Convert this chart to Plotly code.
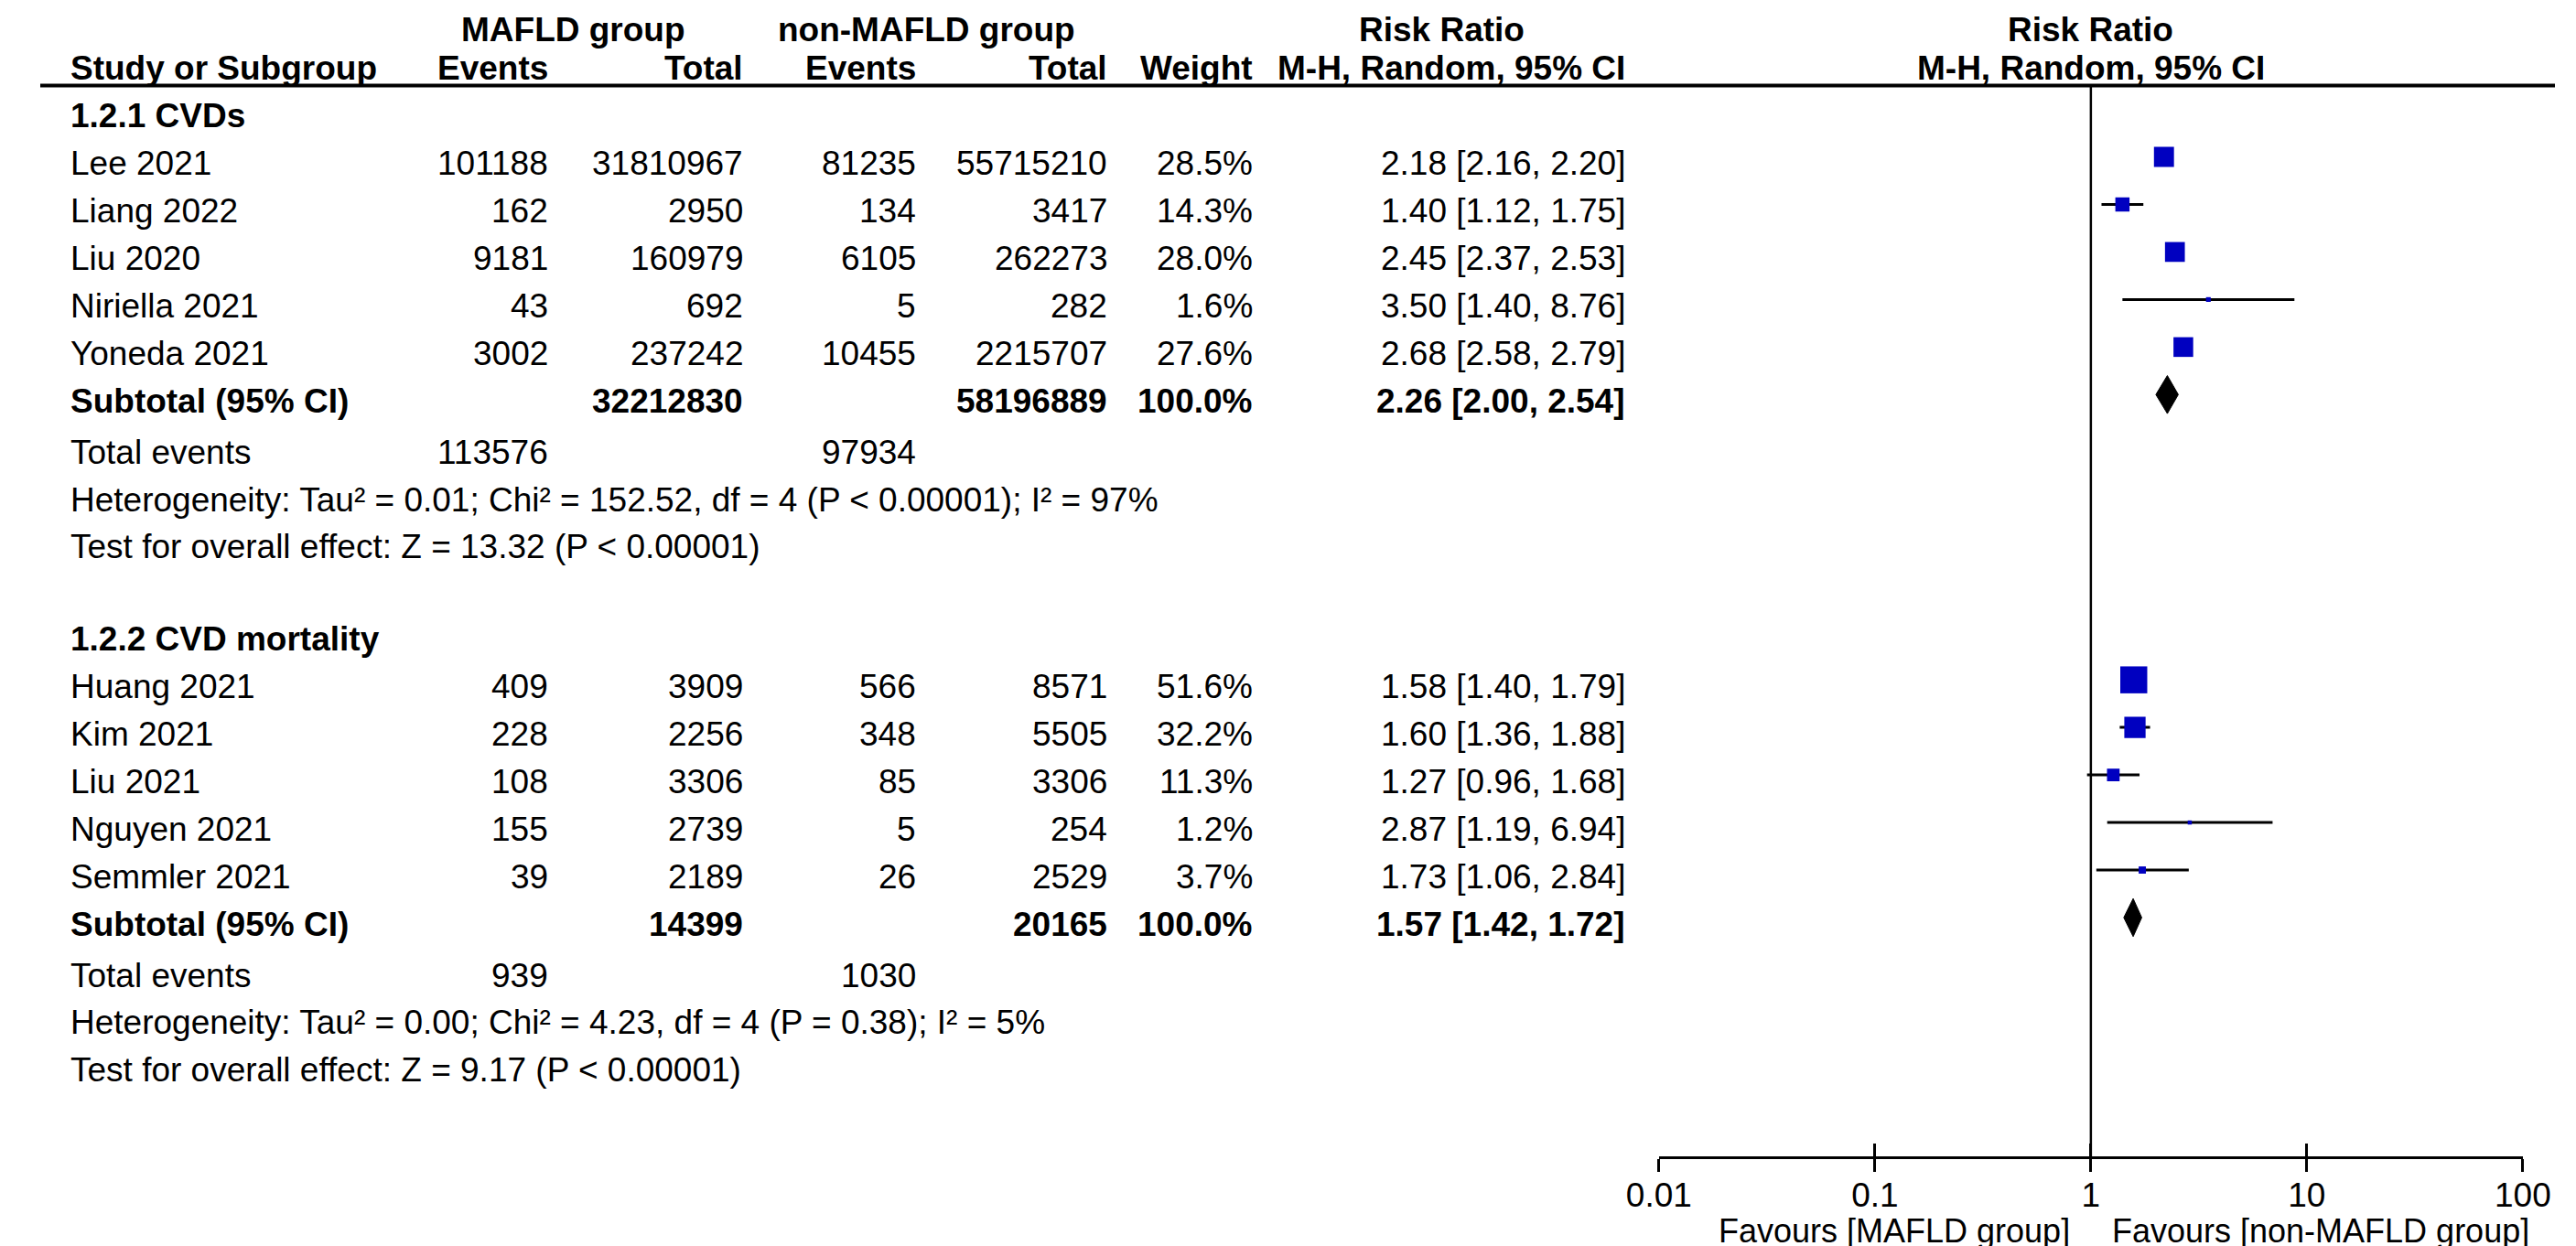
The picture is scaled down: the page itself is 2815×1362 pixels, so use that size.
import math
import plotly.graph_objects as go

FONT = "Liberation Sans, Arial, sans-serif"
FS = 37
BLUE = "#0000c0"

# 1.2.1 CVDs
g1_study = ["Lee 2021", "Liang 2022", "Liu 2020", "Niriella 2021", "Yoneda 2021"]
g1_ev_mafld = [101188, 162, 9181, 43, 3002]
g1_tot_mafld = [31810967, 2950, 160979, 692, 237242]
g1_ev_non = [81235, 134, 6105, 5, 10455]
g1_tot_non = [55715210, 3417, 262273, 282, 2215707]
g1_weight = [28.5, 14.3, 28.0, 1.6, 27.6]
g1_rr = [2.18, 1.40, 2.45, 3.50, 2.68]
g1_lo = [2.16, 1.12, 2.37, 1.40, 2.58]
g1_hi = [2.20, 1.75, 2.53, 8.76, 2.79]
g1_sub = [32212830, 58196889, 2.26, 2.00, 2.54]
g1_events = [113576, 97934]
g1_het = "Heterogeneity: Tau² = 0.01; Chi² = 152.52, df = 4 (P < 0.00001); I² = 97%"
g1_test = "Test for overall effect: Z = 13.32 (P < 0.00001)"

# 1.2.2 CVD mortality
g2_study = ["Huang 2021", "Kim 2021", "Liu 2021", "Nguyen 2021", "Semmler 2021"]
g2_ev_mafld = [409, 228, 108, 155, 39]
g2_tot_mafld = [3909, 2256, 3306, 2739, 2189]
g2_ev_non = [566, 348, 85, 5, 26]
g2_tot_non = [8571, 5505, 3306, 254, 2529]
g2_weight = [51.6, 32.2, 11.3, 1.2, 3.7]
g2_rr = [1.58, 1.60, 1.27, 2.87, 1.73]
g2_lo = [1.40, 1.36, 0.96, 1.19, 1.06]
g2_hi = [1.79, 1.88, 1.68, 6.94, 2.84]
g2_sub = [14399, 20165, 1.57, 1.42, 1.72]
g2_events = [939, 1030]
g2_het = "Heterogeneity: Tau² = 0.00; Chi² = 4.23, df = 4 (P = 0.38); I² = 5%"
g2_test = "Test for overall effect: Z = 9.17 (P < 0.00001)"

tick_vals = [0.01, 0.1, 1, 10, 100]
tick_text = ["0.01", "0.1", "1", "10", "100"]

groups = [
    ("1.2.1 CVDs", g1_study, g1_ev_mafld, g1_tot_mafld, g1_ev_non, g1_tot_non,
     g1_weight, g1_rr, g1_lo, g1_hi, g1_sub, g1_events, g1_het, g1_test),
    ("1.2.2 CVD mortality", g2_study, g2_ev_mafld, g2_tot_mafld, g2_ev_non, g2_tot_non,
     g2_weight, g2_rr, g2_lo, g2_hi, g2_sub, g2_events, g2_het, g2_test),
]

# column anchors (paper x)
X_STUDY = 0.0114
X_EV1 = 0.2028
X_TOT1 = 0.2803
X_EV2 = 0.3489
X_TOT2 = 0.4252
X_W = 0.4828
X_CI = 0.6309
TXT_DY = 0.14  # table text sits a little below the marker row

ann = []


def txt(x, y, s, anchor="right", bold=False, xref="paper", yref="y", size=FS):
    if bold:
        s = "<b>" + s + "</b>"
    ann.append(dict(x=x, y=y, xref=xref, yref=yref, text=s, showarrow=False,
                    xanchor=anchor, yanchor="middle",
                    font=dict(family=FONT, size=size, color="black")))


# headers
TOP = -1.67
txt(0.2121, TOP, "MAFLD group", "center", True)
txt(0.3524, TOP, "non-MAFLD group", "center", True)
txt(0.5574, TOP, "Risk Ratio", "center", True)
txt(0, TOP, "Risk Ratio", "center", True, xref="x")
txt(X_STUDY, -0.87, "Study or Subgroup", "left", True)
txt(X_EV1, -0.87, "Events", "right", True)
txt(X_TOT1, -0.87, "Total", "right", True)
txt(X_EV2, -0.87, "Events", "right", True)
txt(X_TOT2, -0.87, "Total", "right", True)
txt(X_W, -0.87, "Weight", "right", True)
txt(X_CI, -0.87, "M-H, Random, 95% CI", "right", True)
txt(0, -0.87, "M-H, Random, 95% CI", "center", True, xref="x")

fig = go.Figure()

base = 0
for (title, study, ev1, tot1, ev2, tot2, w, rr, lo, hi, sub, events, het, test) in groups:
    txt(X_STUDY, base + TXT_DY, title, "left", True)
    rows = [base + 1 + i for i in range(len(study))]
    for i, r in enumerate(rows):
        t = r + TXT_DY
        txt(X_STUDY, t, study[i], "left")
        txt(X_EV1, t, str(ev1[i]))
        txt(X_TOT1, t, str(tot1[i]))
        txt(X_EV2, t, str(ev2[i]))
        txt(X_TOT2, t, str(tot2[i]))
        txt(X_W, t, f"{w[i]:.1f}%")
        txt(X_CI, t, f"{rr[i]:.2f} [{lo[i]:.2f}, {hi[i]:.2f}]")
    sr = base + len(study) + 1
    t = sr + TXT_DY
    txt(X_STUDY, t, "Subtotal (95% CI)", "left", True)
    txt(X_TOT1, t, str(sub[0]), bold=True)
    txt(X_TOT2, t, str(sub[1]), bold=True)
    txt(X_W, t, "100.0%", bold=True)
    txt(X_CI, t, f"{sub[2]:.2f} [{sub[3]:.2f}, {sub[4]:.2f}]", bold=True)
    txt(X_STUDY, t + 1.08, "Total events", "left")
    txt(X_EV1, t + 1.08, str(events[0]))
    txt(X_EV2, t + 1.08, str(events[1]))
    txt(X_STUDY, t + 2.07, het, "left")
    txt(X_STUDY, t + 3.06, test, "left")

    # confidence interval whiskers
    cx, cy = [], []
    for i, r in enumerate(rows):
        cx += [lo[i], hi[i], None]
        cy += [r, r, None]
    fig.add_trace(go.Scatter(x=cx, y=cy, mode="lines",
                             line=dict(color="black", width=3), hoverinfo="skip"))
    # study squares sized by weight
    fig.add_trace(go.Scatter(x=rr, y=rows, mode="markers",
                             marker=dict(symbol="square", color=BLUE, opacity=1,
                                         size=[4.1 * math.sqrt(v) for v in w],
                                         line=dict(width=0))))
    # pooled diamond
    fig.add_trace(go.Scatter(x=[sub[3], sub[2], sub[4], sub[2], sub[3]],
                             y=[sr, sr - 0.4, sr, sr + 0.4, sr],
                             mode="lines", fill="toself", fillcolor="black",
                             line=dict(color="black", width=1)))
    base = sr + 5

Y_BOTTOM = 22.022
Y_TOP = -2.1455

# line of no effect
fig.add_trace(go.Scatter(x=[1, 1], y=[-0.5, Y_BOTTOM], mode="lines",
                         line=dict(color="black", width=2.5), xaxis="x2"))

fig.add_shape(type="line", xref="paper", yref="y", x0=0, x1=1, y0=-0.5, y1=-0.5,
              line=dict(color="black", width=4))

FAV_Y = 1 - 1337 / 1362
txt(0.8078, FAV_Y, "Favours [MAFLD group]", "right", yref="paper", size=36)
txt(0.8231, FAV_Y, "Favours [non-MAFLD group]", "left", yref="paper", size=36)

dom = [1812 / 2815, 2779 / 2815]
fig.update_layout(
    width=2815, height=1362,
    margin=dict(l=0, r=0, t=0, b=0),
    paper_bgcolor="white", plot_bgcolor="white",
    showlegend=False,
    annotations=ann,
    xaxis=dict(type="log", range=[-2, 2], domain=dom, anchor="y",
               showline=True, linewidth=3, linecolor="black",
               ticks="outside", ticklen=14, tickwidth=3, tickcolor="black",
               ticklabelstandoff=-6,
               tickvals=tick_vals, ticktext=tick_text,
               tickfont=dict(family=FONT, size=FS, color="black"),
               showgrid=False, zeroline=False),
    xaxis2=dict(type="log", range=[-2, 2], domain=dom, anchor="y",
                overlaying="x", side="bottom",
                ticks="inside", ticklen=14, tickwidth=3, tickcolor="black",
                tickvals=tick_vals, showticklabels=False,
                showgrid=False, zeroline=False, showline=False),
    yaxis=dict(domain=[1 - 1256 / 1362, 1], range=[Y_BOTTOM, Y_TOP],
               visible=False),
)

fig.write_html("out.html")
